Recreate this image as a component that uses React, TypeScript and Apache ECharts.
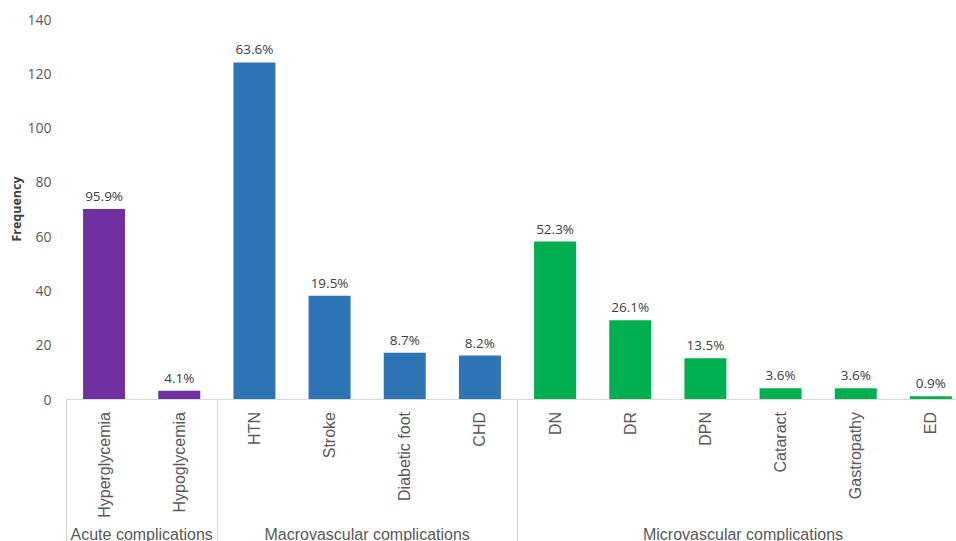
import React, { useEffect, useRef } from "react";
import * as echarts from "echarts";

const categories = [
  "Hyperglycemia", "Hypoglycemia",
  "HTN", "Stroke", "Diabetic foot", "CHD",
  "DN", "DR", "DPN", "Cataract", "Gastropathy", "ED",
];
const values = [70, 3, 124, 38, 17, 16, 58, 29, 15, 4, 4, 1];
const percents = ["95.9%", "4.1%", "63.6%", "19.5%", "8.7%", "8.2%", "52.3%", "26.1%", "13.5%", "3.6%", "3.6%", "0.9%"];
const groupNames = ["Acute complications", "Macrovascular complications", "Microvascular complications"];
const groupSizes = [2, 4, 6];
const groupColors = ["#7030a0", "#2e75b6", "#00b050"];
const yMin = 0;
const yMax = 140;
const yStep = 20;
const yTitle = "Frequency";

export default function App() {
  const ref = useRef<HTMLDivElement>(null);
  useEffect(() => {
    if (!ref.current) return;
    const chart = echarts.init(ref.current, null, { renderer: "svg" });
    const groupOf: number[] = [];
    const starts: number[] = [];
    let s = 0;
    groupSizes.forEach((n, g) => {
      starts.push(s);
      for (let i = 0; i < n; i++) groupOf.push(g);
      s += n;
    });
    chart.setOption({
      animation: false,
      grid: {
        left: 66.5,
        width: 902,
        top: 19,
        bottom: 142,
        containLabel: false,
        outerBoundsMode: "none",
      },
      xAxis: {
        type: "category",
        data: categories,
        axisLine: { show: true, lineStyle: { color: "#d9d9d9", width: 1 } },
        axisTick: {
          show: true,
          alignWithLabel: false,
          interval: (idx: number) => starts.includes(idx),
          length: 142,
          lineStyle: { color: "#d9d9d9", width: 1 },
        },
        axisLabel: {
          interval: 0,
          rotate: 90,
          margin: 13,
          color: "#595959",
          fontFamily: "Liberation Sans",
          fontSize: 16,
        },
      },
      yAxis: {
        type: "value",
        min: yMin,
        max: yMax,
        interval: yStep,
        axisLine: { show: false },
        axisTick: { show: false },
        splitLine: { show: false },
        axisLabel: { color: "#595959", fontFamily: "Open Sans", fontSize: 14, margin: 15 },
      },
      series: [
        {
          type: "bar",
          barWidth: 42,
          data: values.map((v, i) => ({ value: v, itemStyle: { color: groupColors[groupOf[i]] } })),
          label: {
            show: true,
            position: "top",
            distance: 6,
            color: "#404040",
            fontFamily: "Open Sans",
            fontSize: 13.5,
            formatter: (p: any) => percents[p.dataIndex],
          },
        },
      ],
    });
    const texts: any[] = [];
    groupSizes.forEach((n, g) => {
      const a = chart.convertToPixel({ xAxisIndex: 0 }, categories[starts[g]]) as number;
      const b = chart.convertToPixel({ xAxisIndex: 0 }, categories[starts[g] + n - 1]) as number;
      texts.push({
        type: "text",
        x: (a + b) / 2,
        y: 534,
        style: {
          text: groupNames[g],
          fill: "#595959",
          font: "16px 'Liberation Sans'",
          textAlign: "center",
          textVerticalAlign: "middle",
        },
      });
    });
    const yMid = chart.convertToPixel({ yAxisIndex: 0 }, (yMin + yMax) / 2) as number;
    texts.push({
      type: "text",
      x: 16,
      y: yMid,
      rotation: Math.PI / 2,
      style: {
        text: yTitle,
        fill: "#404040",
        font: "bold 12.5px 'Open Sans'",
        textAlign: "center",
        textVerticalAlign: "middle",
      },
    });
    chart.setOption({ graphic: texts });
    return () => chart.dispose();
  }, []);
  return <div ref={ref} style={{ width: 956, height: 541, position: "absolute", left: 0, top: 0 }} />;
}
